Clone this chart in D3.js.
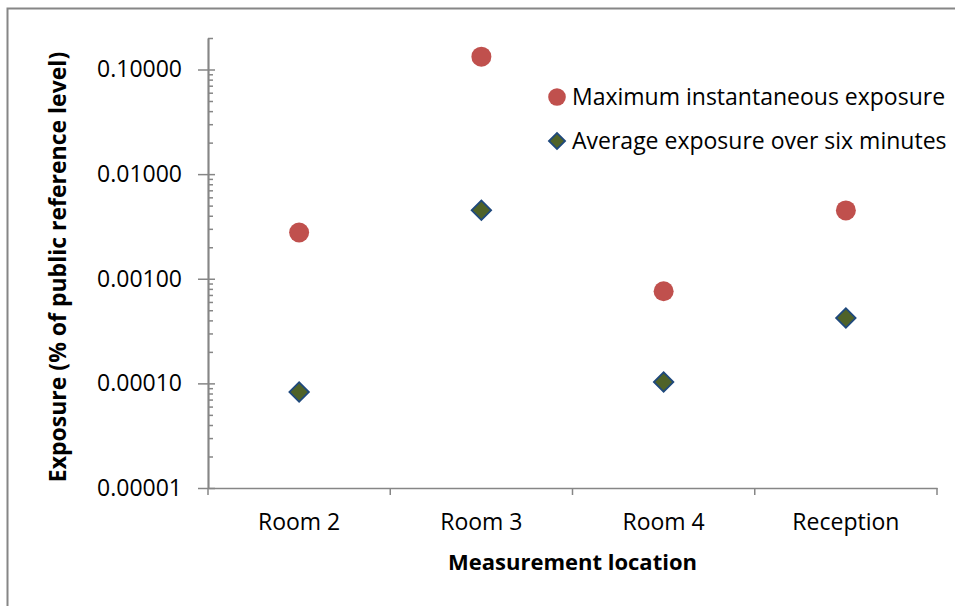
<!DOCTYPE html>
<html>
<head>
<meta charset="utf-8">
<script src="https://cdn.jsdelivr.net/npm/d3@7"></script>
<style>
  body { margin: 0; background: #fff; }
  text { font-family: "Open Sans", sans-serif; fill: #000; }
  .axis path, .axis line { stroke: #868686; stroke-width: 1.5; }
  .axis text { font-size: 23px; }
  .title { font-size: 22px; font-weight: bold; }
  .legendText { font-size: 23px; }
</style>
</head>
<body>
<div id="chart"></div>
<script>
// data
var locations = ["Room 2", "Room 3", "Room 4", "Reception"];
var maxExposure = [0.00277, 0.1326, 0.00076, 0.0045];
var avgExposure = [0.0000826, 0.00452, 0.000103, 0.000422];
var seriesNames = ["Maximum instantaneous exposure", "Average exposure over six minutes"];
var majorTicks = [0.00001, 0.0001, 0.001, 0.01, 0.1];

var W = 955, H = 606;
var margin = {top: 38, left: 208, right: 18, bottom: 118};

var svg = d3.select("#chart").append("svg")
    .attr("width", W)
    .attr("height", H);

// outer frame
svg.append("rect")
    .attr("x", 7.5).attr("y", 8.5)
    .attr("width", W).attr("height", H)
    .attr("fill", "none")
    .attr("stroke", "#868686")
    .attr("stroke-width", 2);

var x = d3.scaleBand()
    .domain(locations)
    .range([margin.left, W - margin.right]);

var y = d3.scaleLog()
    .domain([0.00001, 0.2])
    .range([H - margin.bottom, margin.top]);

// minor ticks 2..9 per decade
var minorTicks = [];
majorTicks.slice(0, 4).forEach(function(m){
  for (var k = 2; k <= 9; k++) minorTicks.push(m * k);
});
minorTicks.push(0.2);

var yBase = H - margin.bottom;

// y axis: labels + outer part of major ticks
svg.append("g")
    .attr("class", "axis y-axis")
    .attr("transform", "translate(" + margin.left + ",0)")
    .call(d3.axisLeft(y).tickValues(majorTicks).tickSize(10).tickSizeOuter(0)
      .tickPadding(16).tickFormat(d3.format(".5f")));

// inner part of major ticks
svg.append("g")
    .attr("class", "axis")
    .attr("transform", "translate(" + margin.left + ",0)")
    .call(d3.axisRight(y).tickValues(majorTicks).tickSize(7).tickSizeOuter(0).tickFormat(""));

// minor ticks
svg.append("g")
    .attr("class", "axis")
    .attr("transform", "translate(" + margin.left + ",0)")
    .call(d3.axisRight(y).tickValues(minorTicks).tickSize(5).tickSizeOuter(0).tickFormat(""));

// x axis labels
var xAxis = svg.append("g")
    .attr("class", "axis x-axis")
    .attr("transform", "translate(0," + yBase + ")")
    .call(d3.axisBottom(x).tickSize(0).tickSizeOuter(0).tickPadding(26));

// x category boundary ticks
var bounds = locations.map(function(d){ return x(d); }).concat([x.range()[1]]);
xAxis.selectAll(".bound")
    .data(bounds)
    .enter().append("line")
    .attr("class", "bound")
    .attr("x1", function(d){ return d; })
    .attr("x2", function(d){ return d; })
    .attr("y1", 0)
    .attr("y2", 7);

// axis titles
svg.append("text")
    .attr("class", "title")
    .attr("text-anchor", "middle")
    .style("font-size", "23px")
    .attr("transform", "translate(66," + 267 + ") rotate(-90)")
    .text("Exposure (% of public reference level)");

svg.append("text")
    .attr("class", "title")
    .attr("text-anchor", "middle")
    .attr("x", (x.range()[0] + x.range()[1]) / 2)
    .attr("y", 570)
    .text("Measurement location");

// points
var cx = function(d, i){ return x(locations[i]) + x.bandwidth() / 2; };

var diamond = d3.symbol().type(d3.symbolSquare).size(190);

svg.selectAll(".avg")
    .data(avgExposure)
    .enter().append("path")
    .attr("class", "avg")
    .attr("d", diamond)
    .attr("transform", function(d, i){ return "translate(" + cx(d, i) + "," + y(d) + ") rotate(45)"; })
    .attr("fill", "#4F6228")
    .attr("stroke", "#1F497D")
    .attr("stroke-width", 1.8);

svg.selectAll(".max")
    .data(maxExposure)
    .enter().append("circle")
    .attr("class", "max")
    .attr("cx", cx)
    .attr("cy", function(d){ return y(d); })
    .attr("r", 10)
    .attr("fill", "#C0504D");

// legend
var legend = svg.append("g").attr("transform", "translate(557,97)");
legend.append("circle").attr("r", 8.8).attr("fill", "#C0504D");
legend.append("path")
    .attr("d", d3.symbol().type(d3.symbolSquare).size(130))
    .attr("transform", "translate(0,44) rotate(45)")
    .attr("fill", "#4F6228")
    .attr("stroke", "#1F497D")
    .attr("stroke-width", 1.8);
legend.selectAll(".legendText")
    .data(seriesNames)
    .enter().append("text")
    .attr("class", "legendText")
    .attr("x", 15)
    .attr("y", function(d, i){ return 8 + i * 44; })
    .text(function(d){ return d; });
</script>
</body>
</html>
